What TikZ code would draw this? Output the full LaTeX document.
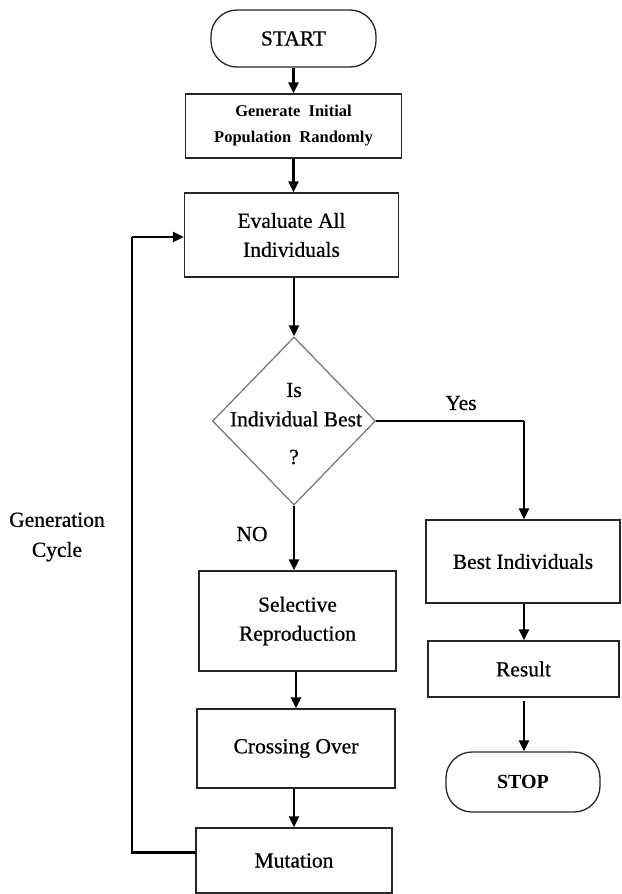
\documentclass[tikz,border=0pt]{standalone}
\usepackage{fontspec}
\setmainfont{Liberation Serif}
\usetikzlibrary{shapes.geometric,arrows.meta}
\begin{document}
\begin{tikzpicture}[x=1pt,y=-1pt,
  box/.style={draw=black!85,line width=1.3pt,rectangle,inner sep=2pt,align=center,font=\fontsize{21.5}{29}\selectfont\addfontfeatures{FakeBold=0.6}},
  term/.style={box,rounded corners=26pt},
  decision/.style={draw=black!55,line width=1.2pt,diamond,minimum width=163pt,minimum height=168pt,inner sep=0pt},
  txt/.style={inner sep=0pt,align=center,font=\fontsize{21.5}{30}\selectfont\addfontfeatures{FakeBold=0.6}},
  arr/.style={line width=2.4pt,-{Triangle[length=11pt,width=10pt]}},
  ln/.style={line width=2.8pt}
]
\useasboundingbox (0,0) rectangle (621,894);
\fill[white] (0,0) rectangle (621,894);

\node[term,minimum width=165pt,minimum height=57pt] (start) at (293.5,38.5) {START};
\node[box,minimum width=216pt,minimum height=64pt,font=\bfseries\fontsize{16.5}{26}\selectfont] (gen) at (293.5,126) {Generate\ \ Initial\\Population\ \ Randomly};
\node[box,minimum width=214pt,minimum height=84pt] (eval) at (291.5,235) {Evaluate All\\Individuals};
\node[decision] (dec) at (294,421) {};
\node[txt] (q1) at (294,390) {Is};
\node[txt] (q2) at (296,419) {Individual Best};
\node[txt] (q3) at (294,457) {?};
\node[box,minimum width=197pt,minimum height=100pt] (sel) at (297.5,621) {Selective\\Reproduction};
\node[box,minimum width=198pt,minimum height=79pt] (cross) at (296,748.5) {Crossing Over};
\node[box,minimum width=196pt,minimum height=65pt] (mut) at (294,860.5) {Mutation};
\node[box,minimum width=194pt,minimum height=83pt] (best) at (523,561.5) {Best Individuals};
\node[box,minimum width=191pt,minimum height=56pt] (res) at (523.5,669) {Result};
\node[term,minimum width=154pt,minimum height=60pt,font=\bfseries\fontsize{20}{26}\selectfont] (stop) at (523,782) {STOP};

\node[txt] (yes) at (461,403) {Yes};
\node[txt] (no) at (252,534) {NO};
\node[txt] (gc) at (57,537) {Generation\\Cycle};

\coordinate (loop) at (132,0);
\coordinate (yturn) at (524,0);

\draw[arr] (start.south) -- (start.south |- gen.north);
\draw[arr] (gen.south) -- (gen.south |- eval.north);
\draw[arr] (eval.south -| dec.north) -- (dec.north);
\draw[arr] (dec.south) -- (dec.south |- sel.north);
\draw[arr] (sel.south -| cross.north) -- (cross.north);
\draw[arr] (cross.south -| mut.north) -- (mut.north);
\draw[ln] (dec.east) -- (dec.east -| yturn);
\draw[arr] (dec.east -| yturn) -- (best.north -| yturn);
\draw[arr] (best.south -| yturn) -- (res.north -| yturn);
\draw[arr] ([yshift=-3pt]res.south -| yturn) -- (stop.north -| yturn);
\draw[ln] ([yshift=8pt]mut.west) -- ([yshift=8pt]mut.west -| loop) -- ([yshift=-2pt]loop |- eval.west);
\draw[arr] ([yshift=-2pt]loop |- eval.west) -- ([yshift=-2pt]eval.west);
\end{tikzpicture}
\end{document}
